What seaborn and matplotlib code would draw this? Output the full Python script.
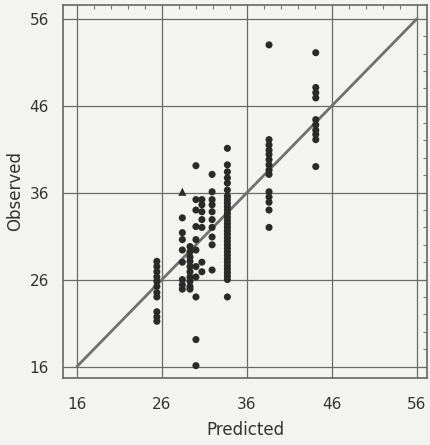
import numpy as np
import pandas as pd
import matplotlib
matplotlib.use("Agg")
import matplotlib.pyplot as plt
import seaborn as sns
from matplotlib.ticker import MultipleLocator

# predicted levels (x) and observed values (y) for each vertical group
pred_levels = [25.4, 28.4, 29.3, 30.0, 30.7, 31.9, 33.7, 38.6, 44.1]

obs_254 = [28.1, 27.5, 26.9, 26.3, 25.8, 25.2, 24.5, 24.0, 22.3, 21.7, 21.2]
obs_284 = [33.1, 31.4, 30.6, 29.4, 28.0, 26.0, 25.4, 24.9]
obs_293 = [29.8, 29.2, 28.6, 28.1, 27.5, 26.9, 26.3, 25.8, 25.2, 24.9]
obs_300 = [39.1, 35.2, 34.0, 32.1, 30.6, 29.4, 27.5, 26.3, 24.0, 19.1, 16.1]
obs_307 = [35.2, 34.6, 33.8, 32.9, 32.0, 28.0, 26.9]
obs_319 = [38.1, 36.1, 35.2, 34.6, 33.8, 32.9, 32.0, 30.9, 30.0, 27.1]
obs_337 = [41.1, 39.2, 38.4, 37.7, 37.1, 36.3, 35.6, 35.2, 34.8, 34.4,
           34.0, 33.6, 33.2, 32.8, 32.4, 32.0, 31.6, 31.2, 30.8, 30.4,
           30.0, 29.6, 29.2, 28.8, 28.4, 28.0, 27.6, 27.2, 26.8, 26.4,
           26.0, 24.0]
obs_386 = [53.0, 42.1, 41.5, 40.9, 40.4, 39.8, 39.2, 38.6, 38.1, 36.1,
           35.5, 34.9, 34.0, 32.0]
obs_441 = [52.1, 48.1, 47.5, 46.9, 44.4, 43.8, 43.2, 42.7, 42.1, 39.0]

# single point drawn with a triangle
tri_pred = [28.4]
tri_obs = [36.1]

ticks = [16, 26, 36, 46, 56]

groups = [obs_254, obs_284, obs_293, obs_300, obs_307,
          obs_319, obs_337, obs_386, obs_441]

df = pd.DataFrame({
    "Predicted": np.concatenate([[p] * len(g) for p, g in zip(pred_levels, groups)]),
    "Observed": np.concatenate(groups),
})
tri = pd.DataFrame({"Predicted": tri_pred, "Observed": tri_obs})

sns.set_style("white")
plt.rcParams["font.family"] = ["DejaVu Sans"]

bg = "#f3f3f1"
fig = plt.figure(figsize=(4.31, 4.45), dpi=100, facecolor=bg)
ax = fig.add_axes([0.146, 0.151, 0.845, 0.838])
ax.set_facecolor(bg)

# grid
for t in ticks:
    ax.axvline(t, color="#6a6a6a", lw=0.9, zorder=1)
    ax.axhline(t, color="#6a6a6a", lw=0.9, zorder=1)

# 1:1 line
sns.lineplot(x=[16, 56], y=[16, 56], color="#707070", lw=2.0, ax=ax, zorder=2)

sns.scatterplot(data=df, x="Predicted", y="Observed", color="#2a2a2a",
                s=26, edgecolor="none", ax=ax, zorder=3)
sns.scatterplot(data=tri, x="Predicted", y="Observed", color="#2a2a2a",
                marker="^", s=34, edgecolor="none", ax=ax, zorder=3)

ax.set_xlim(14.35, 57.2)
ax.set_ylim(14.7, 57.6)
ax.set_xticks(ticks)
ax.set_yticks(ticks)
ax.xaxis.set_minor_locator(MultipleLocator(2))
ax.yaxis.set_minor_locator(MultipleLocator(2))
ax.tick_params(which="major", direction="out", length=5, width=1,
               color="#666666", labelsize=11, labelcolor="#333333")
ax.tick_params(axis="x", which="major", pad=9)
ax.tick_params(axis="y", which="major", pad=5)
ax.tick_params(which="minor", direction="in", length=3, width=0.8,
               color="#777777", top=True, right=True)
ax.tick_params(which="major", top=False, right=False)

for s in ax.spines.values():
    s.set_color("#666666")
    s.set_linewidth(1.2)

ax.set_xlabel("Predicted", fontsize=12, color="#333333", labelpad=6)
ax.set_ylabel("Observed", fontsize=12, color="#333333", labelpad=4)

fig.savefig("out.png", dpi=100, facecolor=bg)
